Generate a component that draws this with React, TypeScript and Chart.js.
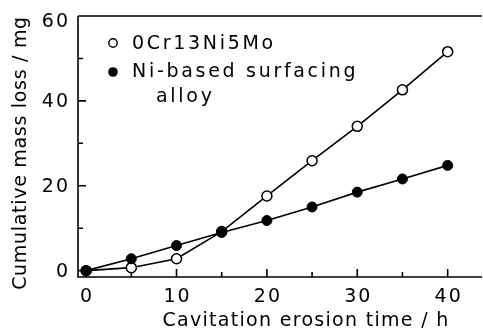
import React, { useEffect, useRef } from "react";
import { Chart, registerables } from "chart.js";

Chart.register(...registerables);

const hours = [0, 5, 10, 15, 20, 25, 30, 35, 40];
const steelLoss = [0, 0.7, 2.8, 9.2, 17.6, 25.9, 34, 42.6, 51.6];
const alloyLoss = [0, 2.8, 5.9, 9.0, 11.8, 15, 18.5, 21.6, 24.8];
const xMajorTicks = [0, 10, 20, 30, 40];
const xMinorTicks = [5, 15, 25, 35];
const yMajorTicks = [0, 20, 40, 60];
const yMinorTicks = [10, 30, 50];
const seriesNames = ["0Cr13Ni5Mo", "Ni-based surfacing", "alloy"];
const xTitle = "Cavitation erosion time / h";
const yTitle = "Cumulative mass loss / mg";

const FONT = "DejaVu Sans";

export default function App() {
  const ref = useRef<HTMLCanvasElement>(null);
  useEffect(() => {
    const canvas = ref.current!;
    const decor = {
      id: "decor",
      afterDatasetsDraw(chart: any) {
        const ctx = chart.ctx as any;
        const { left, right, top, bottom } = chart.chartArea;
        const xs = chart.scales.x;
        const ys = chart.scales.y;
        ctx.save();
        ctx.strokeStyle = "#000";
        ctx.lineWidth = 1.6;
        ctx.beginPath();
        ctx.moveTo(left, top);
        ctx.lineTo(right, top);
        ctx.moveTo(left, top);
        ctx.lineTo(left, bottom);
        ctx.lineTo(right, bottom);
        for (const v of xMajorTicks) {
          const p = xs.getPixelForValue(v);
          ctx.moveTo(p, bottom);
          ctx.lineTo(p, bottom - 8);
        }
        for (const v of xMinorTicks) {
          const p = xs.getPixelForValue(v);
          ctx.moveTo(p, bottom);
          ctx.lineTo(p, bottom - 5);
        }
        for (const v of yMajorTicks) {
          const p = ys.getPixelForValue(v);
          ctx.moveTo(left, p);
          ctx.lineTo(left + 8, p);
        }
        for (const v of yMinorTicks) {
          const p = ys.getPixelForValue(v);
          ctx.moveTo(left, p);
          ctx.lineTo(left + 5, p);
        }
        ctx.stroke();

        ctx.fillStyle = "#000";
        ctx.font = `19px ${FONT}`;
        ctx.letterSpacing = "2px";
        ctx.textBaseline = "middle";
        ctx.textAlign = "right";
        for (const v of yMajorTicks) {
          const p = ys.getPixelForValue(v);
          ctx.fillText(String(v), left - 8, p + (v === 60 ? 6 : 1));
        }
        ctx.textAlign = "center";
        for (const v of xMajorTicks) {
          ctx.fillText(String(v), xs.getPixelForValue(v) + 1, bottom + 20);
        }

        ctx.font = `19px ${FONT}`;
        ctx.letterSpacing = "1.3px";
        ctx.fillText(xTitle, 306, 321);
        ctx.letterSpacing = "0.7px";
        ctx.save();
        ctx.translate(21, 153);
        ctx.rotate(-Math.PI / 2);
        ctx.fillText(yTitle, 0, 0);
        ctx.restore();

        // legend
        ctx.textAlign = "left";
        ctx.letterSpacing = "2.7px";
        ctx.lineWidth = 1.4;
        ctx.beginPath();
        ctx.arc(113, 43, 4.2, 0, Math.PI * 2);
        ctx.fillStyle = "#fff";
        ctx.fill();
        ctx.stroke();
        ctx.beginPath();
        ctx.arc(113, 72, 4.8, 0, Math.PI * 2);
        ctx.fillStyle = "#000";
        ctx.fill();
        ctx.fillText(seriesNames[0], 132, 44);
        ctx.fillText(seriesNames[1], 132, 72);
        ctx.fillText(seriesNames[2], 156, 97);
        ctx.restore();
      },
    };
    const chart = new Chart(canvas, {
      type: "line",
      data: {
        labels: hours,
        datasets: [
          {
            label: seriesNames[1],
            data: hours.map((h, i) => ({ x: h, y: alloyLoss[i] })),
            borderColor: "#000",
            backgroundColor: "#000",
            borderWidth: 1.6,
            pointRadius: 5,
            pointBorderWidth: 1,
            pointBorderColor: "#000",
            pointBackgroundColor: "#000",
            tension: 0,
          },
          {
            label: seriesNames[0],
            data: hours.map((h, i) => ({ x: h, y: steelLoss[i] })),
            borderColor: "#000",
            backgroundColor: "#fff",
            borderWidth: 1.6,
            pointRadius: 5,
            pointBorderWidth: 1.5,
            pointBorderColor: "#000",
            pointBackgroundColor: "#fff",
            tension: 0,
          },
        ],
      },
      options: {
        responsive: false,
        animation: false,
        layout: { autoPadding: false, padding: { left: 78, right: 1, top: 16, bottom: 58 } },
        plugins: { legend: { display: false }, tooltip: { enabled: false } },
        scales: {
          x: { type: "linear", min: -0.9, max: 43.8, display: false },
          y: { type: "linear", min: -1.5, max: 60, display: false },
        },
      },
      plugins: [decor],
    });
    return () => chart.destroy();
  }, []);
  return (
    <div style={{ position: "fixed", left: 0, top: 0, width: 483, height: 335, background: "#fff" }}>
      <canvas ref={ref} width={483} height={335} />
    </div>
  );
}
